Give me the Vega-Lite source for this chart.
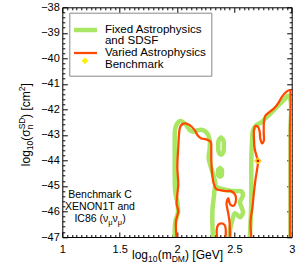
{
  "$schema": "https://vega.github.io/schema/vega-lite/v6.json",
  "width": 229.4,
  "height": 229.7,
  "autosize": {"type": "none"},
  "padding": {"left": 62.3, "top": 7.3, "right": 7.3, "bottom": 31},
  "background": "white",
  "config": {
    "font": "Liberation Sans",
    "view": {"stroke": "black", "strokeWidth": 1},
    "axis": {"grid": false, "domain": false, "tickColor": "black", "labelColor": "black", "labelFont": "Liberation Sans", "labelFontSize": 11, "tickWidth": 1},
    "style": {"guide-label": {"lineHeight": 11}}
  },
  "datasets": {
    "contours": [
      {"series":"Fixed","path":"g1","i":1,"x":1.980,"y":-47.1},
      {"series":"Fixed","path":"g1","i":2,"x":1.985,"y":-46.420},
      {"series":"Fixed","path":"g1","i":3,"x":2.009,"y":-46.027},
      {"series":"Fixed","path":"g1","i":4,"x":2.003,"y":-45.635},
      {"series":"Fixed","path":"g1","i":5,"x":1.985,"y":-45.243},
      {"series":"Fixed","path":"g1","i":6,"x":1.980,"y":-44.576},
      {"series":"Fixed","path":"g1","i":7,"x":1.980,"y":-43.792},
      {"series":"Fixed","path":"g1","i":8,"x":1.980,"y":-43.271},
      {"series":"Fixed","path":"g1","i":9,"x":1.985,"y":-42.745},
      {"series":"Fixed","path":"g1","i":10,"x":2.015,"y":-42.486},
      {"series":"Fixed","path":"g1","i":11,"x":2.037,"y":-42.459},
      {"series":"Fixed","path":"g1","i":12,"x":2.081,"y":-42.616},
      {"series":"Fixed","path":"g1","i":13,"x":2.111,"y":-42.812},
      {"series":"Fixed","path":"g1","i":14,"x":2.139,"y":-42.878},
      {"series":"Fixed","path":"g1","i":15,"x":2.183,"y":-42.812},
      {"series":"Fixed","path":"g1","i":16,"x":2.227,"y":-42.812},
      {"series":"Fixed","path":"g1","i":17,"x":2.264,"y":-42.941},
      {"series":"Fixed","path":"g1","i":18,"x":2.285,"y":-43.204},
      {"series":"Fixed","path":"g1","i":19,"x":2.285,"y":-43.529},
      {"series":"Fixed","path":"g1","i":20,"x":2.276,"y":-43.922},
      {"series":"Fixed","path":"g1","i":21,"x":2.299,"y":-44.314},
      {"series":"Fixed","path":"g1","i":22,"x":2.329,"y":-44.773},
      {"series":"Fixed","path":"g1","i":23,"x":2.343,"y":-45.035},
      {"series":"Fixed","path":"g1","i":24,"x":2.401,"y":-45.125},
      {"series":"Fixed","path":"g1","i":25,"x":2.462,"y":-45.184},
      {"series":"Fixed","path":"g1","i":26,"x":2.514,"y":-45.204},
      {"series":"Fixed","path":"g1","i":27,"x":2.558,"y":-45.204},
      {"series":"Fixed","path":"g1","i":28,"x":2.575,"y":-45.361},
      {"series":"Fixed","path":"g1","i":29,"x":2.549,"y":-45.635},
      {"series":"Fixed","path":"g1","i":30,"x":2.575,"y":-46.027},
      {"series":"Fixed","path":"g1","i":31,"x":2.549,"y":-46.224},
      {"series":"Fixed","path":"g1","i":32,"x":2.506,"y":-46.067},
      {"series":"Fixed","path":"g1","i":33,"x":2.480,"y":-46.380},
      {"series":"Fixed","path":"g1","i":34,"x":2.462,"y":-46.733},
      {"series":"Fixed","path":"g1","i":35,"x":2.458,"y":-47.1},
      {"series":"Fixed","path":"g1b","i":1,"x":2.331,"y":-45.008},
      {"series":"Fixed","path":"g1b","i":2,"x":2.322,"y":-45.400},
      {"series":"Fixed","path":"g1b","i":3,"x":2.309,"y":-45.949},
      {"series":"Fixed","path":"g1b","i":4,"x":2.309,"y":-46.537},
      {"series":"Fixed","path":"g1b","i":5,"x":2.314,"y":-47.1},
      {"series":"Fixed","path":"o1","i":1,"x":2.384,"y":-43.106},
      {"series":"Fixed","path":"o1","i":2,"x":2.404,"y":-43.204},
      {"series":"Fixed","path":"o1","i":3,"x":2.408,"y":-43.439},
      {"series":"Fixed","path":"o1","i":4,"x":2.404,"y":-43.675},
      {"series":"Fixed","path":"o1","i":5,"x":2.384,"y":-43.773},
      {"series":"Fixed","path":"o1","i":6,"x":2.364,"y":-43.675},
      {"series":"Fixed","path":"o1","i":7,"x":2.359,"y":-43.439},
      {"series":"Fixed","path":"o1","i":8,"x":2.364,"y":-43.204},
      {"series":"Fixed","path":"o1","i":9,"x":2.384,"y":-43.106},
      {"series":"Fixed","path":"o2","i":1,"x":2.375,"y":-44.302},
      {"series":"Fixed","path":"o2","i":2,"x":2.391,"y":-44.361},
      {"series":"Fixed","path":"o2","i":3,"x":2.392,"y":-44.478},
      {"series":"Fixed","path":"o2","i":4,"x":2.391,"y":-44.576},
      {"series":"Fixed","path":"o2","i":5,"x":2.375,"y":-44.635},
      {"series":"Fixed","path":"o2","i":6,"x":2.359,"y":-44.576},
      {"series":"Fixed","path":"o2","i":7,"x":2.357,"y":-44.478},
      {"series":"Fixed","path":"o2","i":8,"x":2.359,"y":-44.361},
      {"series":"Fixed","path":"o2","i":9,"x":2.375,"y":-44.302},
      {"series":"Fixed","path":"g2","i":1,"x":2.634,"y":-47.1},
      {"series":"Fixed","path":"g2","i":2,"x":2.643,"y":-46.275},
      {"series":"Fixed","path":"g2","i":3,"x":2.648,"y":-45.490},
      {"series":"Fixed","path":"g2","i":4,"x":2.648,"y":-44.706},
      {"series":"Fixed","path":"g2","i":5,"x":2.648,"y":-43.922},
      {"series":"Fixed","path":"g2","i":6,"x":2.654,"y":-43.271},
      {"series":"Fixed","path":"g2","i":7,"x":2.663,"y":-42.812},
      {"series":"Fixed","path":"g2","i":8,"x":2.691,"y":-42.616},
      {"series":"Fixed","path":"g2","i":9,"x":2.735,"y":-42.510},
      {"series":"Fixed","path":"g2","i":10,"x":2.770,"y":-42.353},
      {"series":"Fixed","path":"g2","i":11,"x":2.808,"y":-42.196},
      {"series":"Fixed","path":"g2","i":12,"x":2.852,"y":-41.988},
      {"series":"Fixed","path":"g2","i":13,"x":2.895,"y":-41.792},
      {"series":"Fixed","path":"g2","i":14,"x":2.939,"y":-41.596},
      {"series":"Fixed","path":"g2","i":15,"x":2.968,"y":-41.467},
      {"series":"Fixed","path":"g2","i":16,"x":2.990,"y":-41.635},
      {"series":"Fixed","path":"g2","i":17,"x":2.990,"y":-42.812},
      {"series":"Fixed","path":"g2","i":18,"x":2.990,"y":-44.773},
      {"series":"Fixed","path":"g2","i":19,"x":2.990,"y":-47.1},
      {"series":"Varied","path":"r1","i":1,"x":1.997,"y":-47.1},
      {"series":"Varied","path":"r1","i":2,"x":1.991,"y":-46.380},
      {"series":"Varied","path":"r1","i":3,"x":2.011,"y":-45.988},
      {"series":"Varied","path":"r1","i":4,"x":1.997,"y":-45.714},
      {"series":"Varied","path":"r1","i":5,"x":2.003,"y":-45.322},
      {"series":"Varied","path":"r1","i":6,"x":2.011,"y":-44.929},
      {"series":"Varied","path":"r1","i":7,"x":2.003,"y":-44.275},
      {"series":"Varied","path":"r1","i":8,"x":2.011,"y":-43.490},
      {"series":"Varied","path":"r1","i":9,"x":2.024,"y":-42.745},
      {"series":"Varied","path":"r1","i":10,"x":2.037,"y":-42.616},
      {"series":"Varied","path":"r1","i":11,"x":2.067,"y":-42.549},
      {"series":"Varied","path":"r1","i":12,"x":2.111,"y":-42.616},
      {"series":"Varied","path":"r1","i":13,"x":2.154,"y":-42.812},
      {"series":"Varied","path":"r1","i":14,"x":2.183,"y":-43.035},
      {"series":"Varied","path":"r1","i":15,"x":2.212,"y":-43.137},
      {"series":"Varied","path":"r1","i":16,"x":2.255,"y":-43.176},
      {"series":"Varied","path":"r1","i":17,"x":2.294,"y":-43.271},
      {"series":"Varied","path":"r1","i":18,"x":2.299,"y":-43.529},
      {"series":"Varied","path":"r1","i":19,"x":2.299,"y":-43.922},
      {"series":"Varied","path":"r1","i":20,"x":2.305,"y":-44.447},
      {"series":"Varied","path":"r1","i":21,"x":2.320,"y":-44.902},
      {"series":"Varied","path":"r1","i":22,"x":2.343,"y":-45.125},
      {"series":"Varied","path":"r1","i":23,"x":2.386,"y":-45.176},
      {"series":"Varied","path":"r1","i":24,"x":2.427,"y":-45.204},
      {"series":"Varied","path":"r1","i":25,"x":2.471,"y":-45.204},
      {"series":"Varied","path":"r1","i":26,"x":2.506,"y":-45.341},
      {"series":"Varied","path":"r1","i":27,"x":2.514,"y":-45.557},
      {"series":"Varied","path":"r1","i":28,"x":2.493,"y":-45.773},
      {"series":"Varied","path":"r1","i":29,"x":2.462,"y":-45.714},
      {"series":"Varied","path":"r1","i":30,"x":2.447,"y":-45.478},
      {"series":"Varied","path":"r1","i":31,"x":2.432,"y":-45.675},
      {"series":"Varied","path":"r1","i":32,"x":2.445,"y":-46.027},
      {"series":"Varied","path":"r1","i":33,"x":2.458,"y":-46.420},
      {"series":"Varied","path":"r1","i":34,"x":2.462,"y":-47.1},
      {"series":"Varied","path":"r1b","i":1,"x":2.351,"y":-47.1},
      {"series":"Varied","path":"r1b","i":2,"x":2.346,"y":-46.733},
      {"series":"Varied","path":"r1b","i":3,"x":2.357,"y":-46.537},
      {"series":"Varied","path":"r1b","i":4,"x":2.386,"y":-46.471},
      {"series":"Varied","path":"r1b","i":5,"x":2.416,"y":-46.537},
      {"series":"Varied","path":"r1b","i":6,"x":2.425,"y":-46.733},
      {"series":"Varied","path":"r1b","i":7,"x":2.421,"y":-47.1},
      {"series":"Varied","path":"r2","i":1,"x":2.650,"y":-47.1},
      {"series":"Varied","path":"r2","i":2,"x":2.641,"y":-46.380},
      {"series":"Varied","path":"r2","i":3,"x":2.658,"y":-45.831},
      {"series":"Varied","path":"r2","i":4,"x":2.671,"y":-45.243},
      {"series":"Varied","path":"r2","i":5,"x":2.686,"y":-44.694},
      {"series":"Varied","path":"r2","i":6,"x":2.700,"y":-44.302},
      {"series":"Varied","path":"r2","i":7,"x":2.706,"y":-44.027},
      {"series":"Varied","path":"r2","i":8,"x":2.691,"y":-43.792},
      {"series":"Varied","path":"r2","i":9,"x":2.677,"y":-43.529},
      {"series":"Varied","path":"r2","i":10,"x":2.671,"y":-43.137},
      {"series":"Varied","path":"r2","i":11,"x":2.671,"y":-42.812},
      {"series":"Varied","path":"r2","i":12,"x":2.683,"y":-42.655},
      {"series":"Varied","path":"r2","i":13,"x":2.706,"y":-42.682},
      {"series":"Varied","path":"r2","i":14,"x":2.721,"y":-42.878},
      {"series":"Varied","path":"r2","i":15,"x":2.726,"y":-43.137},
      {"series":"Varied","path":"r2","i":16,"x":2.741,"y":-43.333},
      {"series":"Varied","path":"r2","i":17,"x":2.756,"y":-43.243},
      {"series":"Varied","path":"r2","i":18,"x":2.756,"y":-42.878},
      {"series":"Varied","path":"r2","i":19,"x":2.758,"y":-42.486},
      {"series":"Varied","path":"r2","i":20,"x":2.770,"y":-42.251},
      {"series":"Varied","path":"r2","i":21,"x":2.808,"y":-42.094},
      {"series":"Varied","path":"r2","i":22,"x":2.852,"y":-41.937},
      {"series":"Varied","path":"r2","i":23,"x":2.887,"y":-41.725},
      {"series":"Varied","path":"r2","i":24,"x":2.915,"y":-41.506},
      {"series":"Varied","path":"r2","i":25,"x":2.953,"y":-41.310},
      {"series":"Varied","path":"r2","i":26,"x":2.983,"y":-41.243},
      {"series":"Varied","path":"r2","i":27,"x":2.990,"y":-41.439},
      {"series":"Varied","path":"r2","i":28,"x":2.985,"y":-42.812},
      {"series":"Varied","path":"r2","i":29,"x":2.985,"y":-44.773},
      {"series":"Varied","path":"r2","i":30,"x":2.985,"y":-47.1}
    ],
    "bench": [{"series": "Benchmark", "x": 2.705, "y": -44.02}]
  },
  "resolve": {"axis": {"x": "independent", "y": "independent"}},
  "layer": [
    {
      "data": {"name": "contours"},
      "transform": [{"filter": "datum.series === 'Fixed'"}],
      "mark": {"type": "line", "clip": true, "interpolate": "catmull-rom", "strokeCap": "round", "strokeJoin": "round"},
      "encoding": {
        "x": {"field": "x", "type": "quantitative", "scale": {"domain": [1, 3], "nice": false, "zero": false},
              "axis": {"orient": "bottom", "values": [1, 1.5, 2, 2.5, 3], "format": "~g", "tickSize": -5, "labelPadding": 11, "title": null, "labelFlush": false, "labelOverlap": false}},
        "y": {"field": "y", "type": "quantitative", "scale": {"domain": [-47, -38], "nice": false, "zero": false},
              "axis": {"orient": "left", "values": [-47, -46, -45, -44, -43, -42, -41, -40, -39, -38], "format": "d", "tickSize": -5, "labelPadding": 8, "title": null, "labelFlush": false, "labelOverlap": false}},
        "detail": {"field": "path"},
        "order": {"field": "i", "type": "quantitative"},
        "color": {"field": "series", "type": "ordinal",
                  "scale": {"domain": ["Fixed", "Varied", "Benchmark"], "range": ["#a8e664", "#ff4800", "#ffee00"]},
                  "legend": {
                    "orient": "none", "legendX": 7, "legendY": 5.4, "title": " ", "titleFontSize": 1, "titlePadding": 6,
                    "padding": 4.5, "strokeColor": "#888888", "fillColor": "white",
                    "labelFont": "Liberation Sans", "labelFontSize": 11.6, "labelColor": "black", "labelLimit": 220,
                    "labelExpr": "datum.value === 'Fixed' ? ['Fixed Astrophysics', 'and SDSF'] : datum.value === 'Varied' ? 'Varied Astrophysics' : 'Benchmark'",
                    "symbolType": "M-5,0H5", "symbolSize": 21, "symbolOffset": 5.9, "labelOffset": 13.6, "rowPadding": -1.75
                  }},
        "strokeWidth": {"field": "series", "type": "ordinal",
                  "scale": {"type": "point", "domain": ["Fixed", "Varied", "Benchmark"], "range": [4.5, 0], "padding": 0},
                  "legend": {
                    "orient": "none", "legendX": 7, "legendY": 5.4, "title": " ", "titleFontSize": 1, "titlePadding": 6,
                    "padding": 4.5, "strokeColor": "#888888", "fillColor": "white",
                    "labelFont": "Liberation Sans", "labelFontSize": 11.6, "labelColor": "black", "labelLimit": 220,
                    "labelExpr": "datum.value === 'Fixed' ? ['Fixed Astrophysics', 'and SDSF'] : datum.value === 'Varied' ? 'Varied Astrophysics' : 'Benchmark'",
                    "symbolType": "M-5,0H5", "symbolSize": 21, "symbolOffset": 5.9, "labelOffset": 13.6, "rowPadding": -1.75
                  }}
      }
    },
    {
      "data": {"name": "contours"},
      "transform": [{"filter": "datum.series === 'Varied'"}],
      "mark": {"type": "line", "clip": true, "interpolate": "catmull-rom", "strokeCap": "round", "strokeJoin": "round"},
      "encoding": {
        "x": {"field": "x", "type": "quantitative", "scale": {"domain": [1, 3], "nice": false, "zero": false},
              "axis": {"orient": "bottom", "values": [1.0417,1.0833,1.125,1.1667,1.2083,1.25,1.2917,1.3333,1.375,1.4167,1.4583,1.5417,1.5833,1.625,1.6667,1.7083,1.75,1.7917,1.8333,1.875,1.9167,1.9583,2.0417,2.0833,2.125,2.1667,2.2083,2.25,2.2917,2.3333,2.375,2.4167,2.4583,2.5417,2.5833,2.625,2.6667,2.7083,2.75,2.7917,2.8333,2.875,2.9167,2.9583],
                       "tickSize": -2.5, "labels": false, "title": null}},
        "y": {"field": "y", "type": "quantitative", "scale": {"domain": [-47, -38], "nice": false, "zero": false},
              "axis": {"orient": "left", "values": [-46.8,-46.6,-46.4,-46.2,-45.8,-45.6,-45.4,-45.2,-44.8,-44.6,-44.4,-44.2,-43.8,-43.6,-43.4,-43.2,-42.8,-42.6,-42.4,-42.2,-41.8,-41.6,-41.4,-41.2,-40.8,-40.6,-40.4,-40.2,-39.8,-39.6,-39.4,-39.2,-38.8,-38.6,-38.4,-38.2],
                       "tickSize": -2.5, "labels": false, "title": null}},
        "detail": {"field": "path"},
        "order": {"field": "i", "type": "quantitative"},
        "color": {"field": "series", "type": "ordinal",
                  "scale": {"domain": ["Fixed", "Varied", "Benchmark"], "range": ["#a8e664", "#ff4800", "#ffee00"]}},
        "strokeWidth": {"field": "series", "type": "ordinal",
                  "scale": {"type": "point", "domain": ["Fixed", "Varied", "Benchmark"], "range": [4.5, 0], "padding": 0}}
      }
    },
    {
      "data": {"name": "bench"},
      "mark": {"type": "point", "filled": true, "color": "#ffee00", "stroke": "#ffb000", "strokeWidth": 0.8, "size": 45, "opacity": 1},
      "encoding": {
        "x": {"field": "x", "type": "quantitative", "scale": {"domain": [1, 3], "nice": false, "zero": false},
              "axis": {"orient": "top", "values": [1, 1.5, 2, 2.5, 3], "tickSize": -5, "labels": false, "title": null}},
        "y": {"field": "y", "type": "quantitative", "scale": {"domain": [-47, -38], "nice": false, "zero": false},
              "axis": {"orient": "right", "values": [-47, -46, -45, -44, -43, -42, -41, -40, -39, -38], "tickSize": -5, "labels": false, "title": null}},
        "shape": {"field": "series", "type": "nominal",
                  "scale": {"domain": ["Benchmark"], "range": ["diamond"]},
                  "legend": {"orient": "none", "legendX": 17.7, "legendY": 48.5, "title": null, "padding": 0,
                             "labelExpr": "''", "symbolSize": 45, "symbolFillColor": "#ffee00", "symbolStrokeColor": "#ffb000", "symbolStrokeWidth": 0.8}}
      }
    },
    {
      "data": {"name": "bench"},
      "mark": {"type": "point", "shape": "circle", "filled": true, "color": "#e00000", "size": 7, "opacity": 1},
      "encoding": {
        "x": {"field": "x", "type": "quantitative", "scale": {"domain": [1, 3], "nice": false, "zero": false},
              "axis": {"orient": "top", "values": [1.0417,1.0833,1.125,1.1667,1.2083,1.25,1.2917,1.3333,1.375,1.4167,1.4583,1.5417,1.5833,1.625,1.6667,1.7083,1.75,1.7917,1.8333,1.875,1.9167,1.9583,2.0417,2.0833,2.125,2.1667,2.2083,2.25,2.2917,2.3333,2.375,2.4167,2.4583,2.5417,2.5833,2.625,2.6667,2.7083,2.75,2.7917,2.8333,2.875,2.9167,2.9583],
                       "tickSize": -2.5, "labels": false, "title": null}},
        "y": {"field": "y", "type": "quantitative", "scale": {"domain": [-47, -38], "nice": false, "zero": false},
              "axis": {"orient": "right", "values": [-46.8,-46.6,-46.4,-46.2,-45.8,-45.6,-45.4,-45.2,-44.8,-44.6,-44.4,-44.2,-43.8,-43.6,-43.4,-43.2,-42.8,-42.6,-42.4,-42.2,-41.8,-41.6,-41.4,-41.2,-40.8,-40.6,-40.4,-40.2,-39.8,-39.6,-39.4,-39.2,-38.8,-38.6,-38.4,-38.2],
                       "tickSize": -2.5, "labels": false, "title": null}}
      }
    },
    {"data": {"values": [{}]}, "mark": {"type": "text", "text": "log", "fontSize": 12, "align": "left", "baseline": "alphabetic", "dx": -45, "dy": 21.5},
     "encoding": {"x": {"datum": 2, "type": "quantitative", "axis": null}, "y": {"datum": -47, "type": "quantitative", "axis": null}}},
    {"data": {"values": [{}]}, "mark": {"type": "text", "text": "10", "fontSize": 8.5, "align": "left", "baseline": "alphabetic", "dx": -29, "dy": 25},
     "encoding": {"x": {"datum": 2, "type": "quantitative", "axis": null}, "y": {"datum": -47, "type": "quantitative", "axis": null}}},
    {"data": {"values": [{}]}, "mark": {"type": "text", "text": "(m", "fontSize": 12, "align": "left", "baseline": "alphabetic", "dx": -19.3, "dy": 21.5},
     "encoding": {"x": {"datum": 2, "type": "quantitative", "axis": null}, "y": {"datum": -47, "type": "quantitative", "axis": null}}},
    {"data": {"values": [{}]}, "mark": {"type": "text", "text": "DM", "fontSize": 8.5, "align": "left", "baseline": "alphabetic", "dx": -5.3, "dy": 25},
     "encoding": {"x": {"datum": 2, "type": "quantitative", "axis": null}, "y": {"datum": -47, "type": "quantitative", "axis": null}}},
    {"data": {"values": [{}]}, "mark": {"type": "text", "text": ") [GeV]", "fontSize": 12, "align": "left", "baseline": "alphabetic", "dx": 8, "dy": 21.5},
     "encoding": {"x": {"datum": 2, "type": "quantitative", "axis": null}, "y": {"datum": -47, "type": "quantitative", "axis": null}}},
    {"data": {"values": [{}]}, "mark": {"type": "text", "text": "log", "fontSize": 12, "align": "left", "baseline": "alphabetic", "angle": 270, "dx": 0, "dy": -32.3},
     "encoding": {"x": {"datum": 1, "type": "quantitative", "axis": null}, "y": {"datum": -44.224, "type": "quantitative", "axis": null}}},
    {"data": {"values": [{}]}, "mark": {"type": "text", "text": "10", "fontSize": 8.5, "align": "left", "baseline": "alphabetic", "angle": 270, "dx": 16, "dy": -29.3},
     "encoding": {"x": {"datum": 1, "type": "quantitative", "axis": null}, "y": {"datum": -44.224, "type": "quantitative", "axis": null}}},
    {"data": {"values": [{}]}, "mark": {"type": "text", "text": "(σ", "fontSize": 12, "align": "left", "baseline": "alphabetic", "angle": 270, "dx": 25.5, "dy": -32.3},
     "encoding": {"x": {"datum": 1, "type": "quantitative", "axis": null}, "y": {"datum": -44.224, "type": "quantitative", "axis": null}}},
    {"data": {"values": [{}]}, "mark": {"type": "text", "text": "n", "fontSize": 8.5, "align": "left", "baseline": "alphabetic", "angle": 270, "dx": 36.8, "dy": -29.3},
     "encoding": {"x": {"datum": 1, "type": "quantitative", "axis": null}, "y": {"datum": -44.224, "type": "quantitative", "axis": null}}},
    {"data": {"values": [{}]}, "mark": {"type": "text", "text": "SD", "fontSize": 8.5, "align": "left", "baseline": "alphabetic", "angle": 270, "dx": 36.8, "dy": -37.5},
     "encoding": {"x": {"datum": 1, "type": "quantitative", "axis": null}, "y": {"datum": -44.224, "type": "quantitative", "axis": null}}},
    {"data": {"values": [{}]}, "mark": {"type": "text", "text": ") [cm", "fontSize": 12, "align": "left", "baseline": "alphabetic", "angle": 270, "dx": 48.2, "dy": -32.3},
     "encoding": {"x": {"datum": 1, "type": "quantitative", "axis": null}, "y": {"datum": -44.224, "type": "quantitative", "axis": null}}},
    {"data": {"values": [{}]}, "mark": {"type": "text", "text": "2", "fontSize": 8.5, "align": "left", "baseline": "alphabetic", "angle": 270, "dx": 74.9, "dy": -37.5},
     "encoding": {"x": {"datum": 1, "type": "quantitative", "axis": null}, "y": {"datum": -44.224, "type": "quantitative", "axis": null}}},
    {"data": {"values": [{}]}, "mark": {"type": "text", "text": "]", "fontSize": 12, "align": "left", "baseline": "alphabetic", "angle": 270, "dx": 79.7, "dy": -32.3},
     "encoding": {"x": {"datum": 1, "type": "quantitative", "axis": null}, "y": {"datum": -44.224, "type": "quantitative", "axis": null}}},
    {"data": {"values": [{}]}, "mark": {"type": "text", "text": "Benchmark C", "fontSize": 10.5, "align": "center", "baseline": "alphabetic", "dy": 0},
     "encoding": {"x": {"datum": 1.329, "type": "quantitative", "axis": null}, "y": {"datum": -45.459, "type": "quantitative", "axis": null}}},
    {"data": {"values": [{}]}, "mark": {"type": "text", "text": "XENON1T and", "fontSize": 10.5, "align": "center", "baseline": "alphabetic", "dy": 12},
     "encoding": {"x": {"datum": 1.329, "type": "quantitative", "axis": null}, "y": {"datum": -45.459, "type": "quantitative", "axis": null}}},
    {"data": {"values": [{}]}, "mark": {"type": "text", "text": "IC86 (ν", "fontSize": 10.5, "align": "left", "baseline": "alphabetic", "dx": -25.6, "dy": 24},
     "encoding": {"x": {"datum": 1.329, "type": "quantitative", "axis": null}, "y": {"datum": -45.459, "type": "quantitative", "axis": null}}},
    {"data": {"values": [{}]}, "mark": {"type": "text", "text": "μ", "fontSize": 7.5, "align": "left", "baseline": "alphabetic", "dx": 8.2, "dy": 27},
     "encoding": {"x": {"datum": 1.329, "type": "quantitative", "axis": null}, "y": {"datum": -45.459, "type": "quantitative", "axis": null}}},
    {"data": {"values": [{}]}, "mark": {"type": "text", "text": "ν", "fontSize": 10.5, "align": "left", "baseline": "alphabetic", "dx": 12.5, "dy": 24},
     "encoding": {"x": {"datum": 1.329, "type": "quantitative", "axis": null}, "y": {"datum": -45.459, "type": "quantitative", "axis": null}}},
    {"data": {"values": [{}]}, "mark": {"type": "text", "text": "μ", "fontSize": 7.5, "align": "left", "baseline": "alphabetic", "dx": 17.75, "dy": 27},
     "encoding": {"x": {"datum": 1.329, "type": "quantitative", "axis": null}, "y": {"datum": -45.459, "type": "quantitative", "axis": null}}},
    {"data": {"values": [{}]}, "mark": {"type": "text", "text": ")", "fontSize": 10.5, "align": "left", "baseline": "alphabetic", "dx": 22.1, "dy": 24},
     "encoding": {"x": {"datum": 1.329, "type": "quantitative", "axis": null}, "y": {"datum": -45.459, "type": "quantitative", "axis": null}}}
  ]
}
